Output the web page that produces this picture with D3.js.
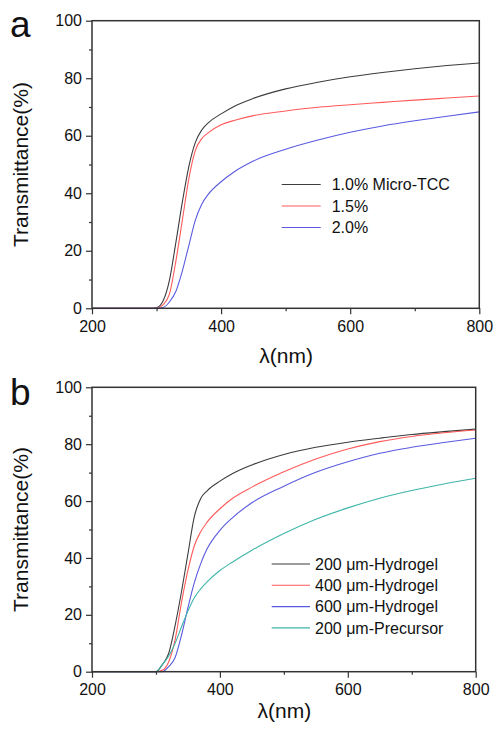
<!DOCTYPE html>
<html>
<head>
<meta charset="utf-8">
<script src="https://cdn.jsdelivr.net/npm/d3@7"></script>
<style>
  html, body { margin: 0; padding: 0; background: #fff; }
  svg { display: block; }
  text { font-family: "Liberation Sans", Arial, sans-serif; fill: #111; }
</style>
</head>
<body>
<svg id="chart" width="493" height="730"></svg>
<script>
// ---------- data ----------
const wavelengths = [200, 290, 300, 310, 320, 330, 340, 350, 360, 370, 380, 400, 420, 450, 500, 550, 600, 650, 700, 750, 800];

// panel a
const aLabels = ["1.0% Micro-TCC", "1.5%", "2.0%"];
const aMicro10 = [0, 0, 0.2, 2.5, 9.8, 23, 37, 49.3, 57.6, 62.0, 64.5, 67.6, 70.2, 73, 76.3, 78.6, 80.5, 82.0, 83.3, 84.4, 85.3];
const aMicro15 = [0, 0, 0, 1.2, 5, 16.5, 30.7, 45, 54.8, 59.0, 61, 63.8, 65.3, 67, 68.6, 69.9, 70.8, 71.6, 72.4, 73.1, 73.8];
const aMicro20 = [0, 0, 0, 0.3, 2.2, 5.9, 13, 21.8, 30.6, 36.2, 39.6, 44, 47.4, 51.2, 55.3, 58.5, 61.2, 63.4, 65.2, 66.8, 68.3];

// panel b
const bLabels = ["200 \u03bcm-Hydrogel", "400 \u03bcm-Hydrogel", "600 \u03bcm-Hydrogel", "200 \u03bcm-Precursor"];
const bHydro200 = [0, 0, 0, 2.5, 6.5, 16.3, 28.2, 41.4, 54.5, 60.9, 63.6, 67, 69.7, 72.7, 76.4, 78.9, 80.7, 82.1, 83.4, 84.4, 85.3];
const bHydro400 = [0, 0, 0, 0.5, 3.5, 11.3, 24.4, 35.6, 44.3, 49.2, 52.6, 57.3, 61, 64.9, 70.3, 74.8, 78.3, 80.9, 82.7, 84, 85];
const bHydro600 = [0, 0, 0, 0, 1.8, 5, 12.9, 22.5, 31.3, 38.0, 43.2, 49.7, 54.2, 59.4, 65.2, 70.1, 73.8, 76.8, 78.9, 80.6, 82.1];
const bPrecursor200 = [0, 0, 0, 2.5, 5.5, 10, 15.8, 21.3, 26.0, 29.1, 31.6, 35.6, 38.6, 42.7, 48.6, 53.6, 57.6, 61, 63.7, 66, 68];

const xMajorTicks = [200, 400, 600, 800];
const xMinorTicks = [300, 500, 700];
const yMajorTicks = [0, 20, 40, 60, 80, 100];
const yMinorTicks = [10, 30, 50, 70, 90];

const aColors = ["#3c3c3c", "#ff5a5a", "#5a5ae0"];
const bColors = ["#3c3c3c", "#ff5a5a", "#5a5ae0", "#3fb5aa"];

// ---------- drawing ----------
const svg = d3.select("#chart");

const panels = [
  { letter: "a", series: [aMicro10, aMicro15, aMicro20], labels: aLabels, colors: aColors,
    left: 92, right: 479.3, top: 20.7, bottom: 308.3, letterY: 36.5,
    titleY: 363, legendX1: 281.7, legendX2: 320.7, legendTextX: 331.7, legendY: 184.5, legendStep: 21.5 },
  { letter: "b", series: [bHydro200, bHydro400, bHydro600, bPrecursor200], labels: bLabels, colors: bColors,
    left: 92, right: 475.7, top: 387.3, bottom: 671.7, letterY: 405,
    titleY: 718, legendX1: 271.7, legendX2: 310, legendTextX: 315, legendY: 564, legendStep: 21.3 }
];

const axisColor = "#333";

panels.forEach(p => {
  const x = d3.scaleLinear().domain([200, 800]).range([p.left, p.right]);
  const y = d3.scaleLinear().domain([0, 100]).range([p.bottom, p.top]);
  const g = svg.append("g");

  // curves
  const line = d3.line()
    .x((d, i) => x(wavelengths[i]))
    .y(d => y(d))
    .curve(d3.curveMonotoneX);
  p.series.forEach((s, k) => {
    g.append("path")
      .datum(s)
      .attr("d", line)
      .attr("fill", "none")
      .attr("stroke", p.colors[k])
      .attr("stroke-width", 1.1);
  });

  // frame
  g.append("rect")
    .attr("x", p.left).attr("y", p.top)
    .attr("width", p.right - p.left).attr("height", p.bottom - p.top)
    .attr("fill", "none").attr("stroke", axisColor).attr("stroke-width", 1.5);

  // x axis
  const xAxis = g.append("g").attr("transform", `translate(0,${p.bottom})`)
    .call(d3.axisBottom(x).tickValues(xMajorTicks).tickSize(6).tickPadding(6).tickFormat(d3.format("d")));
  g.append("g").attr("transform", `translate(0,${p.bottom})`)
    .call(d3.axisBottom(x).tickValues(xMinorTicks).tickSize(3).tickFormat(""))
    .call(a => a.select(".domain").remove())
    .selectAll("line").attr("stroke", axisColor).attr("stroke-width", 1.2);
  xAxis.select(".domain").remove();
  xAxis.selectAll("line").attr("stroke", axisColor).attr("stroke-width", 1.2);
  xAxis.selectAll("text")
    .attr("font-family", "Liberation Sans, Arial, sans-serif")
    .attr("font-size", 16).attr("fill", "#111")
    .attr("dy", null).attr("y", 23.5);

  // y axis
  const yAxis = g.append("g").attr("transform", `translate(${p.left},0)`)
    .call(d3.axisLeft(y).tickValues(yMajorTicks).tickSize(6).tickPadding(4).tickFormat(d3.format("d")));
  g.append("g").attr("transform", `translate(${p.left},0)`)
    .call(d3.axisLeft(y).tickValues(yMinorTicks).tickSize(3).tickFormat(""))
    .call(a => a.select(".domain").remove())
    .selectAll("line").attr("stroke", axisColor).attr("stroke-width", 1.2);
  yAxis.select(".domain").remove();
  yAxis.selectAll("line").attr("stroke", axisColor).attr("stroke-width", 1.2);
  yAxis.selectAll("text")
    .attr("font-family", "Liberation Sans, Arial, sans-serif")
    .attr("font-size", 16).attr("fill", "#111")
    .attr("x", -10);

  // axis titles
  g.append("text")
    .attr("x", (p.left + p.right) / 2 + 0.5)
    .attr("y", p.titleY)
    .attr("text-anchor", "middle")
    .attr("font-size", 21)
    .text("\u03bb(nm)");
  g.append("text")
    .attr("transform", `translate(28,${(p.top + p.bottom) / 2}) rotate(-90)`)
    .attr("text-anchor", "middle")
    .attr("font-size", 21)
    .text("Transmittance(%)");

  // panel letter
  g.append("text")
    .attr("x", 10).attr("y", p.letterY)
    .attr("font-size", 37)
    .text(p.letter);

  // legend
  p.labels.forEach((lab, k) => {
    const ly = p.legendY + k * p.legendStep;
    g.append("line")
      .attr("x1", p.legendX1).attr("x2", p.legendX2)
      .attr("y1", ly).attr("y2", ly)
      .attr("stroke", p.colors[k]).attr("stroke-width", 1.1);
    g.append("text")
      .attr("x", p.legendTextX).attr("y", ly)
      .attr("dy", "0.36em")
      .attr("font-size", 16)
      .text(lab);
  });
});
</script>
</body>
</html>
